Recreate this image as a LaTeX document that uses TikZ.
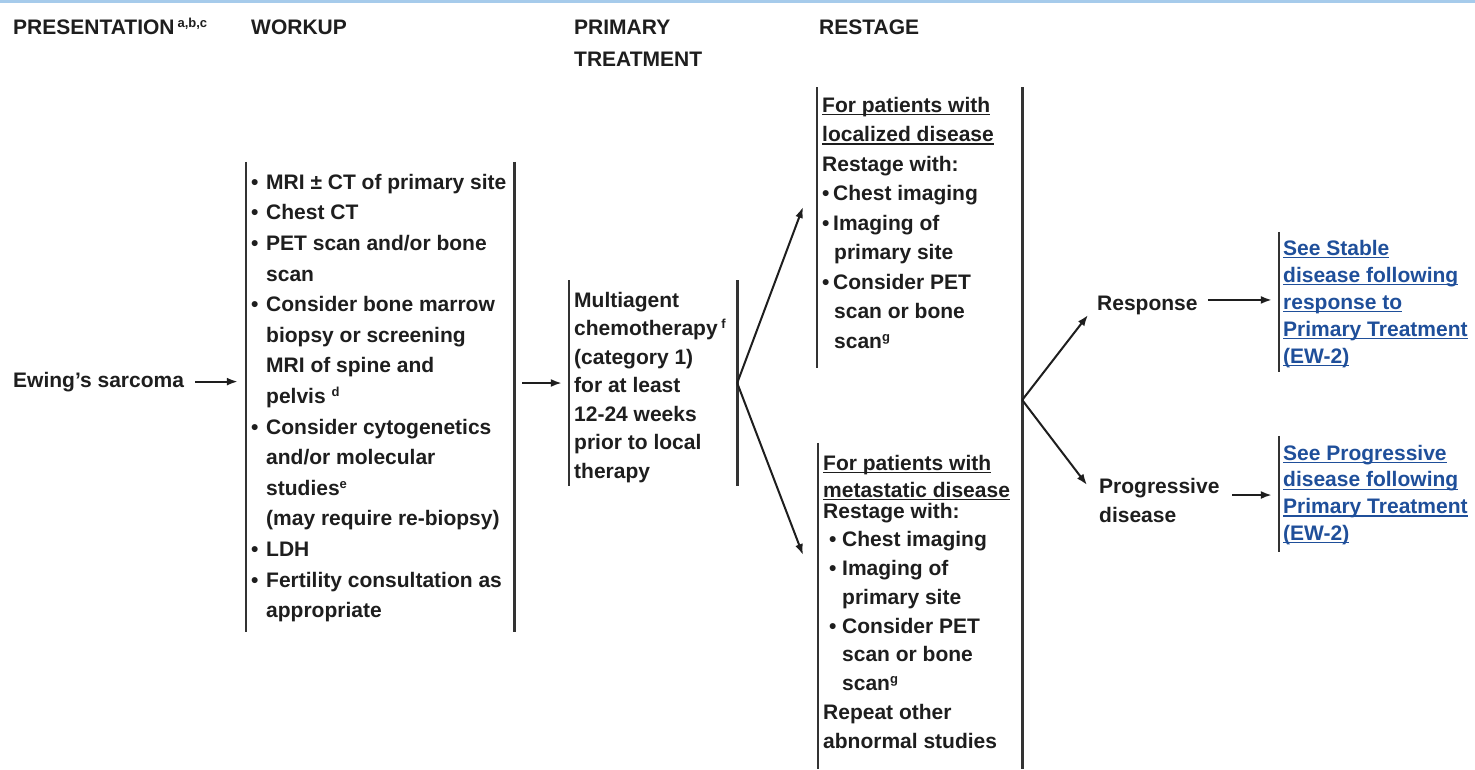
\documentclass[tikz,border=0pt]{standalone}
\usepackage{fontspec}
\setmainfont{Liberation Sans}
\usetikzlibrary{arrows.meta}

\definecolor{ink}{HTML}{1E1E1E}
\definecolor{rulegray}{HTML}{333333}
\definecolor{linkblue}{HTML}{1F4F9A}
\definecolor{topblue}{HTML}{A6CBEB}

% underline drawn a fixed distance below the baseline
\newcommand\undl[1]{\setbox0\hbox{#1}\rlap{\rule[-3pt]{\wd0}{1.3pt}}\box0}
% raised footnote letter
\newcommand\fnm[1]{\raisebox{7pt}{\fontsize{13}{13}\selectfont #1}}
% strut fixing the distance from the node top to the first baseline
\newcommand\topstrut{\rule{0pt}{18pt}}
\newcommand\bul[1]{\makebox[#1][l]{\textbullet}}

\tikzset{
  txt/.style={font=\bfseries\fontsize{21}{#1}\selectfont, text=ink,
              align=left, inner sep=0pt, anchor=north west},
  txt/.default=30.6,
  lbl/.style={font=\bfseries\fontsize{21}{30}\selectfont, text=ink,
              inner sep=0pt, anchor=base west},
  frame/.style={draw=none, inner sep=0pt, minimum width=#1},
  bar/.style={draw=rulegray, line width=2.6pt},
  arr/.style={draw=ink, line width=2pt, -{Latex[length=11pt,width=8pt]}},
}

\begin{document}
\begin{tikzpicture}[x=1pt,y=-1pt]
\useasboundingbox (0,0) rectangle (1475,769);
\fill[white] (0,0) rectangle (1475,769);
\draw[topblue, line width=2.5pt] (0,1.5) -- (1475,1.5);

% column headings
\node[lbl] (hPres) at (13,34) {PRESENTATION\hspace{3pt}\fnm{a,b,c}};
\node[lbl] (hWork) at (251,34) {WORKUP};
\node[txt=32] (hPrim) at (574,16) {\topstrut PRIMARY\\TREATMENT};
\node[lbl] (hRest) at (819,34) {RESTAGE};

% presentation
\node[lbl] (ew) at (13,387) {Ewing's sarcoma};

% box frames (vertical bars are drawn on their sides)
\node[frame=268, minimum height=470] (wk) at (380,397) {};
\node[frame=168, minimum height=205] (pt) at (653,383) {};
\node[frame=205, minimum height=280] (rsA) at (919.5,227.5) {};
\node[frame=204, minimum height=326] (rsB) at (920,606) {};
\node[frame=190, minimum height=140] (lkA) at (1374,302) {};
\node[frame=190, minimum height=116] (lkB) at (1374,494) {};

\draw[bar] (wk.north west) -- (wk.south west);
\draw[bar] (wk.north east) -- (wk.south east);
\draw[bar] (pt.north west) -- (pt.south west);
\draw[bar] (pt.north east) -- (pt.south east);
\draw[bar] (rsA.north west) -- (rsA.south west);
\draw[bar] (rsB.north west) -- (rsB.south west);
\draw[bar] (rsA.north east) -- (rsB.south east);
\draw[bar] (lkA.north west) -- (lkA.south west);
\draw[bar] (lkB.north west) -- (lkB.south west);

% workup list
\node[txt] (wkT) at (251,171) {\topstrut\bul{15pt}MRI ± CT of primary site\\
\bul{15pt}Chest CT\\
\bul{15pt}PET scan and/or bone\\
\hspace*{15pt}scan\\
\bul{15pt}Consider bone marrow\\
\hspace*{15pt}biopsy or screening\\
\hspace*{15pt}MRI of spine and\\
\hspace*{15pt}pelvis \fnm{d}\\
\bul{15pt}Consider cytogenetics\\
\hspace*{15pt}and/or molecular\\
\hspace*{15pt}studies\fnm{e}\\
\hspace*{15pt}(may require re-biopsy)\\
\bul{15pt}LDH\\
\bul{15pt}Fertility consultation as\\
\hspace*{15pt}appropriate};

% primary treatment
\node[txt=28.5] (ptT) at (574,289) {\topstrut Multiagent\\
chemotherapy\,\fnm{f}\\
(category 1)\\
for at least\\
12-24 weeks\\
prior to local\\
therapy};

% restage, localized disease
\node[txt=29.5] (rsAT) at (822,94) {\topstrut\undl{For patients with}\\
\undl{localized disease}\\
Restage with:\\
\bul{11pt}Chest imaging\\
\bul{11pt}Imaging of\\
\hspace*{12pt}primary site\\
\bul{11pt}Consider PET\\
\hspace*{12pt}scan or bone\\
\hspace*{12pt}scan\fnm{g}};

% restage, metastatic disease
\node[txt=27] (rsBH) at (823,452) {\topstrut\undl{For patients with}\\
\undl{metastatic disease}};
\node[txt=28.75] (rsBT) at (823,500) {\topstrut Restage with:\\
\hspace*{6pt}\bul{13pt}Chest imaging\\
\hspace*{6pt}\bul{13pt}Imaging of\\
\hspace*{19pt}primary site\\
\hspace*{6pt}\bul{13pt}Consider PET\\
\hspace*{19pt}scan or bone\\
\hspace*{19pt}scan\fnm{g}\\
Repeat other\\
abnormal studies};

% outcomes
\node[lbl, inner xsep=10pt] (rsp) at (1087,310) {Response};
\node[txt=29, inner xsep=0pt] (prg) at (1099,475) {\topstrut Progressive\\disease};

% cross-references
\node[txt=27, text=linkblue] (lkAT) at (1283,237) {\topstrut\undl{See Stable}\\
\undl{disease following}\\
\undl{response to}\\
\undl{Primary Treatment}\\
\undl{(EW-2)}};
\node[txt=26.7, text=linkblue] (lkBT) at (1283,442) {\topstrut\undl{See Progressive}\\
\undl{disease following}\\
\undl{Primary Treatment}\\
\undl{(EW-2)}};

% connectors
\coordinate (ewE) at ([xshift=11pt]ew.east);
\draw[arr, shorten >=8pt] (ewE) -- (ewE -| wk.west);
\coordinate (wkE) at ([xshift=8pt]wk.east |- pt.west);
\draw[arr, shorten >=7pt] (wkE) -- (pt.west);

\coordinate (br1) at (pt.east);
\coordinate (tipA) at (803,207);
\coordinate (tipB) at (803,555);
\draw[arr] (br1) -- (tipA);
\draw[arr] (br1) -- (tipB);

\coordinate (br2) at (rsA.east |- 0,400);
\coordinate (tipR) at (1088,315);
\coordinate (tipP) at (1087,485);
\draw[arr] (br2) -- (tipR);
\draw[arr] (br2) -- (tipP);

\coordinate (rspE) at ([yshift=5pt]rsp.east);
\draw[arr, shorten >=7pt] (rspE) -- (rspE -| lkA.west);
\coordinate (prgE) at (1232,495);
\draw[arr, shorten >=7pt] (prgE) -- (prgE -| lkB.west);
\end{tikzpicture}
\end{document}
